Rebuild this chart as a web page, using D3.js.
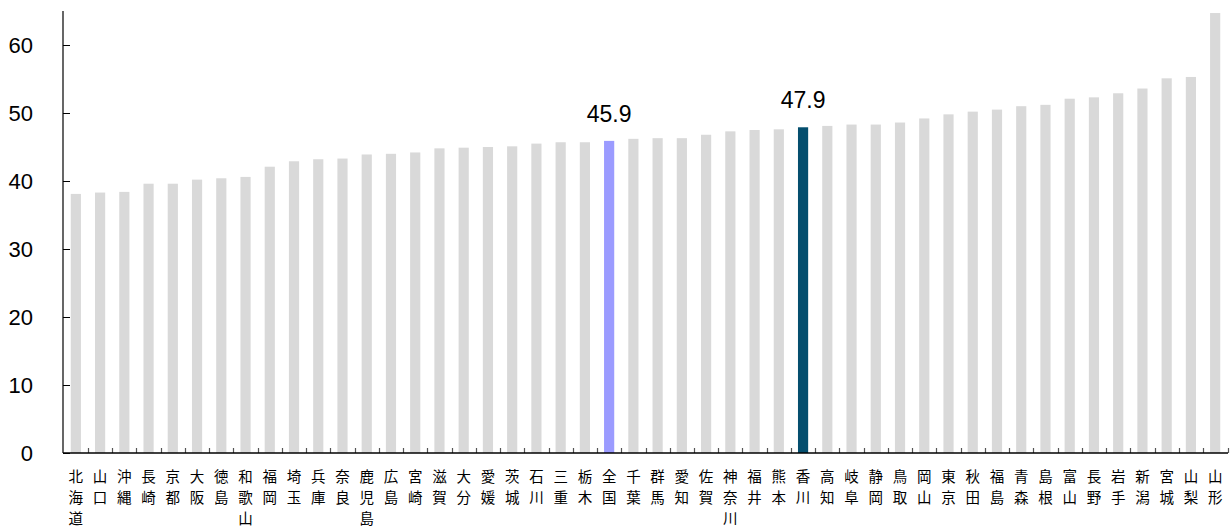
<!DOCTYPE html>
<html><head><meta charset="utf-8">
<script src="https://cdn.jsdelivr.net/npm/d3@7"></script>
<style>
html,body{margin:0;padding:0;background:#fff;}
svg{display:block;}
</style>
</head><body>
<svg id="chart" width="1232" height="532"></svg>
<script>
const categories = ["北海道","山口","沖縄","長崎","京都","大阪","徳島","和歌山","福岡","埼玉","兵庫","奈良","鹿児島","広島","宮崎","滋賀","大分","愛媛","茨城","石川","三重","栃木","全国","千葉","群馬","愛知","佐賀","神奈川","福井","熊本","香川","高知","岐阜","静岡","鳥取","岡山","東京","秋田","福島","青森","島根","富山","長野","岩手","新潟","宮城","山梨","山形"];
const values = [38.1,38.3,38.4,39.6,39.6,40.2,40.4,40.6,42.1,42.9,43.2,43.3,43.9,44.0,44.2,44.8,44.9,45.0,45.1,45.5,45.7,45.7,45.9,46.2,46.3,46.3,46.8,47.3,47.5,47.6,47.9,48.1,48.3,48.3,48.6,49.2,49.8,50.2,50.5,51.0,51.2,52.1,52.3,52.9,53.6,55.1,55.3,64.7];
const yTicks = [0,10,20,30,40,50,60];
const highlightNational = "全国";
const highlightSelf = "香川";
const labeled = ["全国","香川"];

(function(){
const svg = d3.select("#chart");
const mLeft = 63, mRight = 1228, mTop = 11, mBottom = 453;
const x = d3.scaleBand().domain(categories).range([mLeft, mRight]).paddingInner(0.58).paddingOuter(0.32);
const y = d3.scaleLinear().domain([0, 65]).range([mBottom, mTop]);
const numFont = "'Liberation Sans', Arial, sans-serif";
const cjkFont = "'Noto Sans CJK JP', sans-serif";

const data = categories.map((c, i) => ({c, v: values[i]}));

svg.append("g").selectAll("rect").data(data).join("rect")
  .attr("x", d => x(d.c))
  .attr("y", d => y(d.v))
  .attr("width", x.bandwidth())
  .attr("height", d => y(0) - y(d.v))
  .attr("fill", d => d.c === highlightNational ? "#9b9bff" : d.c === highlightSelf ? "#044e6e" : "#d9d9d9");

// value labels
svg.append("g").selectAll("text").data(data.filter(d => labeled.includes(d.c))).join("text")
  .attr("x", d => x(d.c) + x.bandwidth() / 2)
  .attr("y", d => y(d.v) - 19)
  .attr("text-anchor", "middle")
  .attr("font-family", numFont)
  .attr("font-size", 23)
  .attr("fill", "#000")
  .text(d => d.v.toFixed(1));

// y axis
const yAxis = svg.append("g").attr("transform", `translate(${mLeft},0)`)
  .call(d3.axisRight(y).tickValues(yTicks).tickSize(7).tickFormat(d3.format("d")));
yAxis.select(".domain").remove();
yAxis.selectAll(".tick line").attr("stroke", "#000");
yAxis.selectAll(".tick text")
  .attr("x", -30).attr("text-anchor", "end")
  .attr("font-family", numFont).attr("font-size", 22).attr("fill", "#000");
svg.append("line").attr("x1", mLeft).attr("x2", mLeft).attr("y1", mTop).attr("y2", mBottom)
  .attr("stroke", "#000").attr("stroke-width", 1.2);

// x axis ticks between bands
const boundaries = categories.slice(1).map(c => x(c) - x.step() * x.paddingInner() / 2).concat([mRight]);
svg.append("g").selectAll("line").data(boundaries).join("line")
  .attr("x1", d => Math.round(d) + 0.5).attr("x2", d => Math.round(d) + 0.5)
  .attr("y1", mBottom).attr("y2", mBottom - 5)
  .attr("stroke", "#555").attr("stroke-width", 1.2);
svg.append("line").attr("x1", mLeft).attr("x2", mRight).attr("y1", mBottom).attr("y2", mBottom)
  .attr("stroke", "#000").attr("stroke-width", 1.5);

// x labels, stacked vertically one character per line
const xl = svg.append("g").selectAll("text").data(categories).join("text")
  .attr("font-family", cjkFont).attr("font-size", 14.5).attr("fill", "#000")
  .attr("text-anchor", "middle");
xl.each(function(c) {
  const t = d3.select(this);
  const cx = x(c) + x.bandwidth() / 2;
  Array.from(c).forEach((ch, i) => {
    t.append("tspan").attr("x", cx).attr("y", 481.5 + i * 21).text(ch);
  });
});
})();
</script>
</body></html>
